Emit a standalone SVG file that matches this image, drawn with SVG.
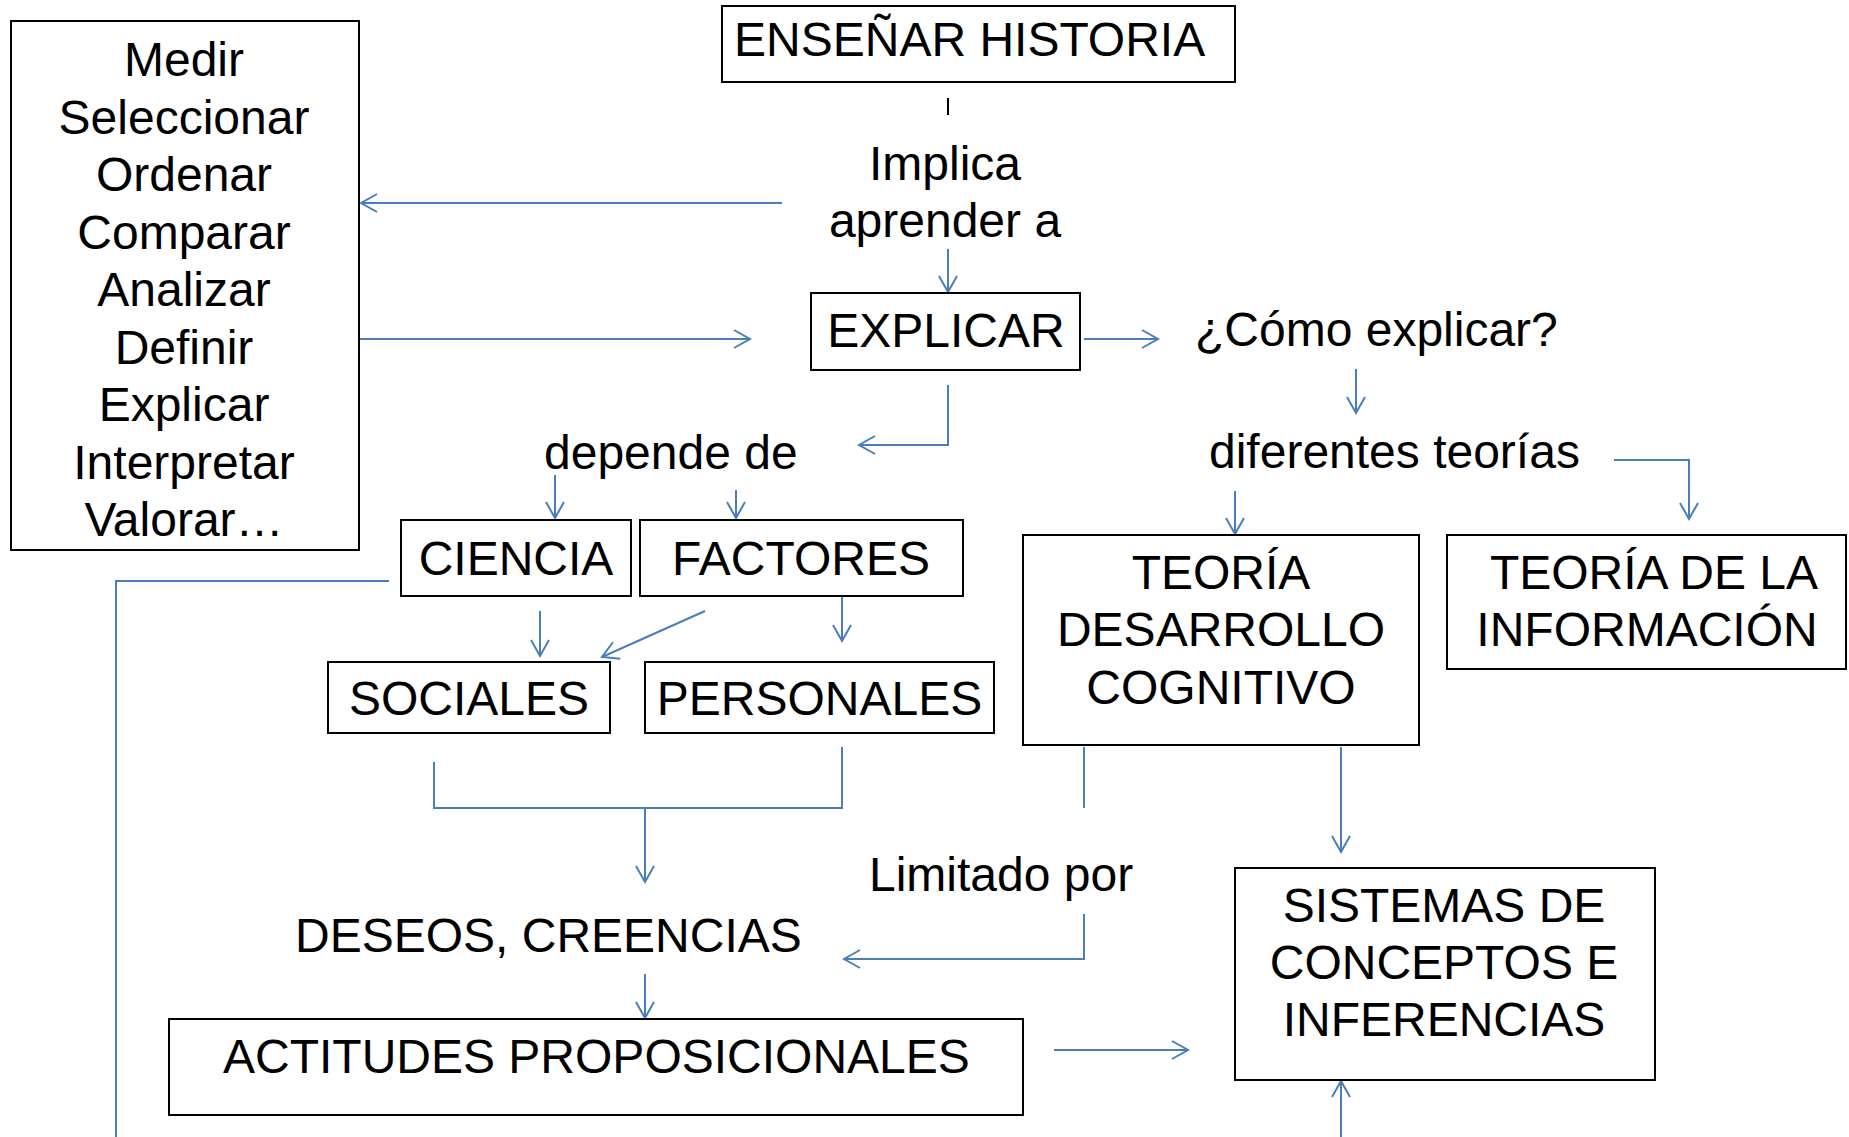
<svg xmlns="http://www.w3.org/2000/svg" width="1849" height="1137" viewBox="0 0 1849 1137">
<style>
.box{fill:#fff;stroke:#000;stroke-width:2}
.t{font-family:"Liberation Sans",Arial,sans-serif;font-size:48px;fill:#000}
.c{text-anchor:middle}
.ln{fill:none;stroke:#4A7EBB;stroke-width:2}
.ar{marker-end:url(#arr)}
</style>
<defs>
<marker id="arr" markerUnits="userSpaceOnUse" markerWidth="24" markerHeight="24" viewBox="-20 -12 24 24" refX="0" refY="0" orient="auto" overflow="visible">
<path d="M -16 -9 L 0 0 L -16 9" fill="none" stroke="#4A7EBB" stroke-width="2"/>
</marker>
</defs>
<rect width="1849" height="1137" fill="#fff"/>

<g id="connectors">
<line x1="948" y1="98" x2="948" y2="115" stroke="#000" stroke-width="2"/>
<line class="ln ar" x1="782" y1="203" x2="361" y2="203"/>
<line class="ln ar" x1="948" y1="249" x2="948" y2="292"/>
<line class="ln ar" x1="359" y1="339" x2="750" y2="339"/>
<line class="ln ar" x1="1084" y1="339" x2="1158" y2="339"/>
<line class="ln ar" x1="1356" y1="369" x2="1356" y2="413"/>
<polyline class="ln ar" points="948,385 948,445 859,445"/>
<line class="ln ar" x1="555" y1="475" x2="555" y2="518"/>
<line class="ln ar" x1="736" y1="490" x2="736" y2="518"/>
<line class="ln ar" x1="1235" y1="491" x2="1235" y2="534"/>
<polyline class="ln ar" points="1614,460 1689,460 1689,519"/>
<polyline class="ln" points="389,581 116,581 116,1137"/>
<line class="ln ar" x1="540" y1="611" x2="540" y2="656"/>
<line class="ln ar" x1="705" y1="611" x2="602" y2="657"/>
<line class="ln ar" x1="842" y1="597" x2="842" y2="641"/>
<polyline class="ln" points="434,762 434,808 842,808 842,747"/>
<line class="ln ar" x1="645" y1="808" x2="645" y2="882"/>
<line class="ln ar" x1="645" y1="974" x2="645" y2="1018"/>
<line class="ln" x1="1084" y1="747" x2="1084" y2="808"/>
<polyline class="ln ar" points="1084,914 1084,959 844,959"/>
<line class="ln ar" x1="1341" y1="747" x2="1341" y2="852"/>
<line class="ln ar" x1="1054" y1="1050" x2="1188" y2="1050"/>
<line class="ln ar" x1="1341" y1="1137" x2="1341" y2="1081"/>
</g>

<g id="n-lista">
<rect class="box" x="11" y="21" width="348" height="529"/>
<text class="t c" x="184" y="76">Medir</text>
<text class="t c" x="184" y="133.5">Seleccionar</text>
<text class="t c" x="184" y="191">Ordenar</text>
<text class="t c" x="184" y="248.5">Comparar</text>
<text class="t c" x="184" y="306">Analizar</text>
<text class="t c" x="184" y="363.5">Definir</text>
<text class="t c" x="184" y="421">Explicar</text>
<text class="t c" x="184" y="478.5">Interpretar</text>
<text class="t c" x="184" y="536">Valorar…</text>
</g>

<g id="n-ensenar">
<rect class="box" x="722" y="6" width="513" height="76"/>
<text class="t" x="734" y="56">ENSEÑAR HISTORIA</text>
</g>

<g id="n-implica">
<text class="t c" x="945" y="180">Implica</text>
<text class="t c" x="945" y="237">aprender a</text>
</g>

<g id="n-explicar">
<rect class="box" x="811" y="293" width="269" height="77"/>
<text class="t c" x="946" y="347">EXPLICAR</text>
</g>

<g id="n-como">
<text class="t" x="1195" y="346">¿Cómo explicar?</text>
</g>

<g id="n-depende">
<text class="t" x="544" y="469">depende de</text>
</g>

<g id="n-diferentes">
<text class="t" x="1209" y="468">diferentes teorías</text>
</g>

<g id="n-ciencia">
<rect class="box" x="401" y="520" width="230" height="76"/>
<text class="t c" x="516" y="575">CIENCIA</text>
</g>

<g id="n-factores">
<rect class="box" x="640" y="520" width="323" height="76"/>
<text class="t c" x="801" y="575">FACTORES</text>
</g>

<g id="n-sociales">
<rect class="box" x="328" y="662" width="282" height="71"/>
<text class="t c" x="469" y="715">SOCIALES</text>
</g>

<g id="n-personales">
<rect class="box" x="645" y="662" width="349" height="71"/>
<text class="t c" x="819.5" y="715">PERSONALES</text>
</g>

<g id="n-tdc">
<rect class="box" x="1023" y="535" width="396" height="210"/>
<text class="t c" x="1221" y="589">TEORÍA</text>
<text class="t c" x="1221" y="646">DESARROLLO</text>
<text class="t c" x="1221" y="704">COGNITIVO</text>
</g>

<g id="n-tinf">
<rect class="box" x="1447" y="535" width="399" height="134"/>
<text class="t c" x="1654" y="589">TEORÍA DE LA</text>
<text class="t c" x="1647" y="646">INFORMACIÓN</text>
</g>

<g id="n-limitado">
<text class="t" x="869" y="891">Limitado por</text>
</g>

<g id="n-deseos">
<text class="t" x="295" y="952">DESEOS, CREENCIAS</text>
</g>

<g id="n-actitudes">
<rect class="box" x="169" y="1019" width="854" height="96"/>
<text class="t" x="223" y="1073">ACTITUDES PROPOSICIONALES</text>
</g>

<g id="n-sistemas">
<rect class="box" x="1235" y="868" width="420" height="212"/>
<text class="t c" x="1444" y="922">SISTEMAS DE</text>
<text class="t c" x="1444" y="979">CONCEPTOS E</text>
<text class="t c" x="1444" y="1036">INFERENCIAS</text>
</g>
</svg>
